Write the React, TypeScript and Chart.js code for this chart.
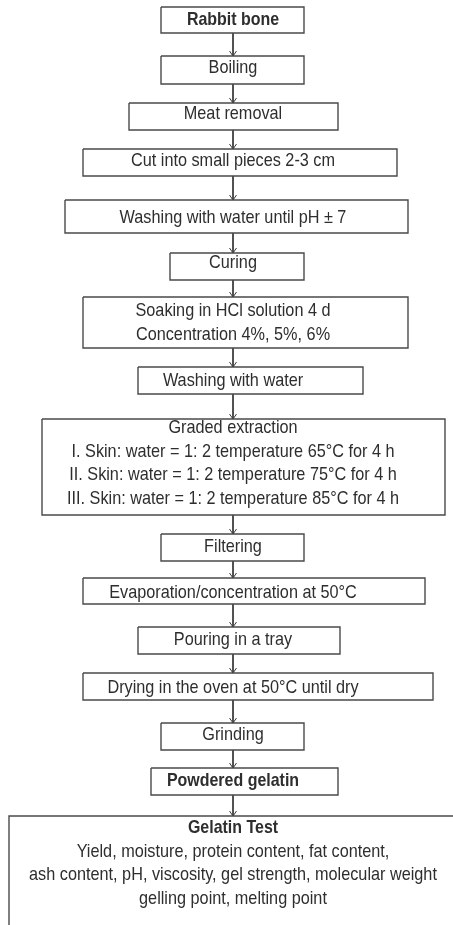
import React, { useEffect, useRef } from "react";
import { Chart, registerables } from "chart.js";

Chart.register(...registerables);

// Flowchart steps (top to bottom)
const stepLabels: string[][] = [
  ["Rabbit bone"],
  ["Boiling"],
  ["Meat removal"],
  ["Cut into small pieces 2-3 cm"],
  ["Washing with water until pH ± 7"],
  ["Curing"],
  ["Soaking in HCl solution 4 d", "Concentration 4%, 5%, 6%"],
  ["Washing with water"],
  [
    "Graded extraction",
    "I. Skin: water = 1: 2 temperature 65°C for 4 h",
    "II. Skin: water = 1: 2 temperature 75°C for 4 h",
    "III. Skin: water = 1: 2 temperature 85°C for 4 h",
  ],
  ["Filtering"],
  ["Evaporation/concentration at 50°C"],
  ["Pouring in a tray"],
  ["Drying in the oven at 50°C until dry"],
  ["Grinding"],
  ["Powdered gelatin"],
  [
    "Gelatin Test",
    "Yield, moisture, protein content, fat content,",
    "ash content, pH, viscosity, gel strength, molecular weight",
    "gelling point, melting point",
  ],
];
const stepBoldFirst: boolean[] = [true, false, false, false, false, false, false, false, false, false, false, false, false, false, true, true];
const stepBoldAll: boolean[] = [true, false, false, false, false, false, false, false, false, false, false, false, false, false, true, false];
// Box extents in layout units
const boxLeft: number[] = [161, 161, 129, 83, 65, 170, 83, 138, 42, 161, 83, 138, 83, 161, 151, 9];
const boxRight: number[] = [304, 304, 338, 397, 408, 304, 408, 363, 445, 304, 425, 340, 433, 304, 338, 470];
const boxTop: number[] = [7, 56, 103, 149, 200, 253, 297, 367, 419, 534, 578, 627, 673, 723, 768, 816];
const boxBottom: number[] = [33, 84, 130, 176, 233, 280, 348, 394, 515, 561, 604, 654, 700, 750, 795, 935];
// First-line baseline in each box
const textBaseline: number[] = [25, 73, 119, 166, 223, 268, 316, 386, 433, 552, 598, 645, 693, 740, 786, 833];
const lineGap = 23.6;
const flowAxisX = 233;

const W = 453;
const H = 925;

export default function App() {
  const ref = useRef<HTMLCanvasElement | null>(null);

  useEffect(() => {
    document.body.style.margin = "0";
    const canvas = ref.current;
    if (!canvas) return;

    const datasets: any[] = [];
    // boxes
    stepLabels.forEach((_, i) => {
      const l = boxLeft[i], r = boxRight[i], t = boxTop[i], b = boxBottom[i];
      const pts = i === stepLabels.length - 1
        ? [{ x: l, y: b }, { x: l, y: t }, { x: r, y: t }]
        : [{ x: l, y: t }, { x: r, y: t }, { x: r, y: b }, { x: l, y: b }, { x: l, y: t }];
      datasets.push({
        type: "line",
        data: pts,
        borderColor: "#4a4a4a",
        borderWidth: 1.4,
        pointRadius: 0,
        fill: false,
        tension: 0,
        borderJoinStyle: "miter",
      });
    });
    // arrows
    for (let i = 0; i < stepLabels.length - 1; i++) {
      const y0 = boxBottom[i];
      const y1 = boxTop[i + 1];
      datasets.push({
        type: "line",
        data: [{ x: flowAxisX, y: y0 }, { x: flowAxisX, y: y1 }],
        borderColor: "#3a3a3a",
        borderWidth: 1,
        pointRadius: 0,
      });
      datasets.push({
        type: "line",
        data: [
          { x: flowAxisX - 3.5, y: y1 - 5 },
          { x: flowAxisX, y: y1 },
          { x: flowAxisX + 3.5, y: y1 - 5 },
        ],
        borderColor: "#3a3a3a",
        borderWidth: 1,
        pointRadius: 0,
      });
    }

    const textPlugin = {
      id: "flowText",
      afterDatasetsDraw(chart: any) {
        const ctx = chart.ctx;
        const xs = chart.scales.x;
        const ys = chart.scales.y;
        ctx.fillStyle = "#2e2e2e";
        ctx.textAlign = "center";
        ctx.textBaseline = "alphabetic";
        stepLabels.forEach((lines, i) => {
          lines.forEach((line, j) => {
            const bold = j === 0 ? stepBoldFirst[i] : stepBoldAll[i];
            ctx.save();
            ctx.font = `${bold ? "bold " : ""}19px "Liberation Sans", Arial, sans-serif`;
            ctx.translate(xs.getPixelForValue(flowAxisX), ys.getPixelForValue(textBaseline[i] + j * lineGap));
            ctx.scale(bold ? 0.84 : 0.855, 1);
            ctx.fillText(line, 0, 0);
            ctx.restore();
          });
        });
      },
    };

    const chart = new Chart(canvas, {
      type: "line",
      data: { datasets },
      options: {
        responsive: false,
        animation: false,
        layout: { padding: 0 },
        plugins: { legend: { display: false }, tooltip: { enabled: false } },
        scales: {
          x: { type: "linear", min: 0, max: W, display: false },
          y: { type: "linear", min: 0, max: H, reverse: true, display: false },
        },
      },
      plugins: [textPlugin],
    } as any);
    return () => chart.destroy();
  }, []);

  return (
    <div style={{ width: W, height: H, background: "#fff" }}>
      <canvas ref={ref} width={W} height={H} style={{ display: "block" }} />
    </div>
  );
}
